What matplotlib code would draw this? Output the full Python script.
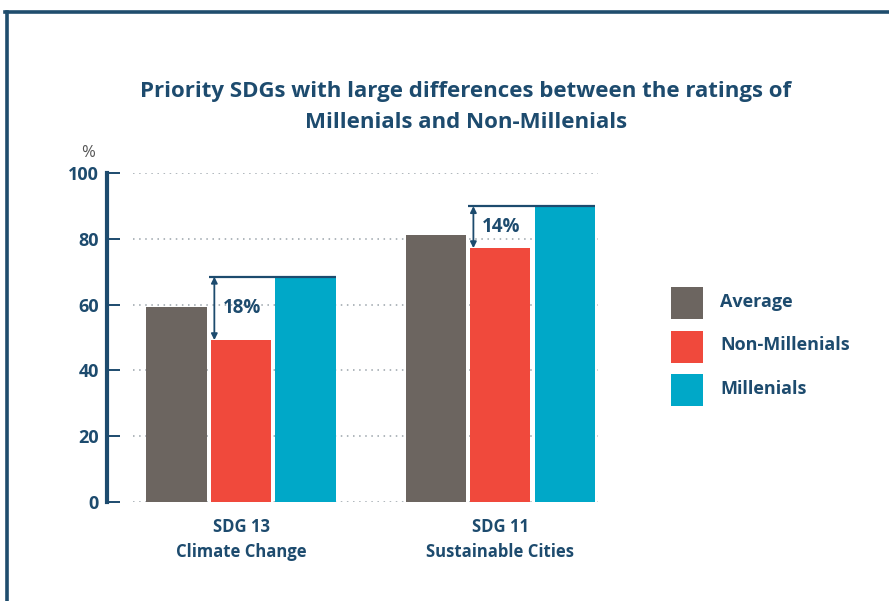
import numpy as np
import matplotlib.pyplot as plt
from matplotlib.lines import Line2D
from matplotlib.patches import Rectangle

plt.rcParams['font.family'] = ['Open Sans', 'DejaVu Sans']
plt.rcParams['font.weight'] = 'bold'

groups = ["SDG 13\nClimate Change", "SDG 11\nSustainable Cities"]
series = ["Average", "Non-Millenials", "Millenials"]
average = [59.4, 81.2]
non_mill = [49.2, 77.2]
mill = [68.5, 90.0]
diff_labels = ["18%", "14%"]
yticks = [0, 20, 40, 60, 80, 100]

NAVY = "#1d4b6e"
colors = ["#6c6560", "#f0493c", "#00a8c8"]

W, H = 889, 601
fig = plt.figure(figsize=(W / 100, H / 100), dpi=100)
ax = fig.add_axes([133/W, 99.3/H, 465/W, 328.4/H])

x = np.arange(len(groups))
w = 0.232
step = 0.249
for i, (vals, c) in enumerate(zip([average, non_mill, mill], colors)):
    ax.bar(x + (i - 1) * step, vals, width=w, color=c, zorder=3, label=series[i])

# difference markers
for xi, lo, hi, lab in zip(x, non_mill, mill, diff_labels):
    left = xi - w / 2
    ax.plot([left - 0.008, xi + step + w / 2], [hi, hi], color=NAVY, lw=1.6, zorder=4,
            solid_capstyle="butt")
    ax.annotate("", xy=(left + 0.013, lo), xytext=(left + 0.013, hi),
                arrowprops=dict(arrowstyle="<|-|>", color=NAVY, lw=1.3,
                                mutation_scale=9, shrinkA=0, shrinkB=0), zorder=5)
    ax.text(left + 0.045, (lo + hi) / 2, lab, color=NAVY, fontsize=13.5,
            va="center", ha="left", zorder=5)

ax.set_xlim(-0.417, 1.378)
ax.set_ylim(0, 100)
ax.set_yticks(yticks)
ax.set_xticks(x)
ax.set_xticklabels(groups, linespacing=1.45)
ax.tick_params(axis="x", length=0, pad=12, labelsize=12, labelcolor=NAVY)
ax.tick_params(axis="y", direction="in", length=9, width=1.4, color=NAVY, pad=6,
               labelsize=13, labelcolor=NAVY)

for s in ["top", "right", "bottom"]:
    ax.spines[s].set_visible(False)
ax.spines["left"].set_position(("outward", 18.5))
ax.spines["left"].set_color(NAVY)
ax.spines["left"].set_linewidth(3)

ax.grid(axis="y", linestyle=(0, (1, 3)), color="#9aa3aa", lw=1.1, zorder=0)
ax.set_axisbelow(True)

fig.text(88/W, 1 - 153/H, "%", color="#555555", fontsize=12, fontweight="normal",
         ha="center", va="center")

fig.text(466/W, 1 - 92/H,
         "Priority SDGs with large differences between the ratings of",
         color=NAVY, fontsize=16, ha="center", va="center")
fig.text(466/W, 1 - 122/H, "Millenials and Non-Millenials",
         color=NAVY, fontsize=16, ha="center", va="center")

# legend drawn by hand: square swatches with labels
for k, (name, c) in enumerate(zip(series, colors)):
    top = 287 + k * 43.5
    fig.add_artist(Rectangle((671/W, 1 - (top + 32)/H), 32/W, 32/H,
                             transform=fig.transFigure, facecolor=c, edgecolor="none"))
    fig.text(720/W, 1 - (top + 15)/H, name, color=NAVY, fontsize=13,
             ha="left", va="center")

# outer frame
fig.add_artist(Line2D([6.5/W, 6.5/W], [0, 1 - 12/H], transform=fig.transFigure,
                      color="#1f4d6d", lw=2.6))
fig.add_artist(Line2D([5/W, 1], [1 - 12/H, 1 - 12/H], transform=fig.transFigure,
                      color="#1f4d6d", lw=2.6))

fig.savefig("out.png", dpi=100, facecolor="white")
